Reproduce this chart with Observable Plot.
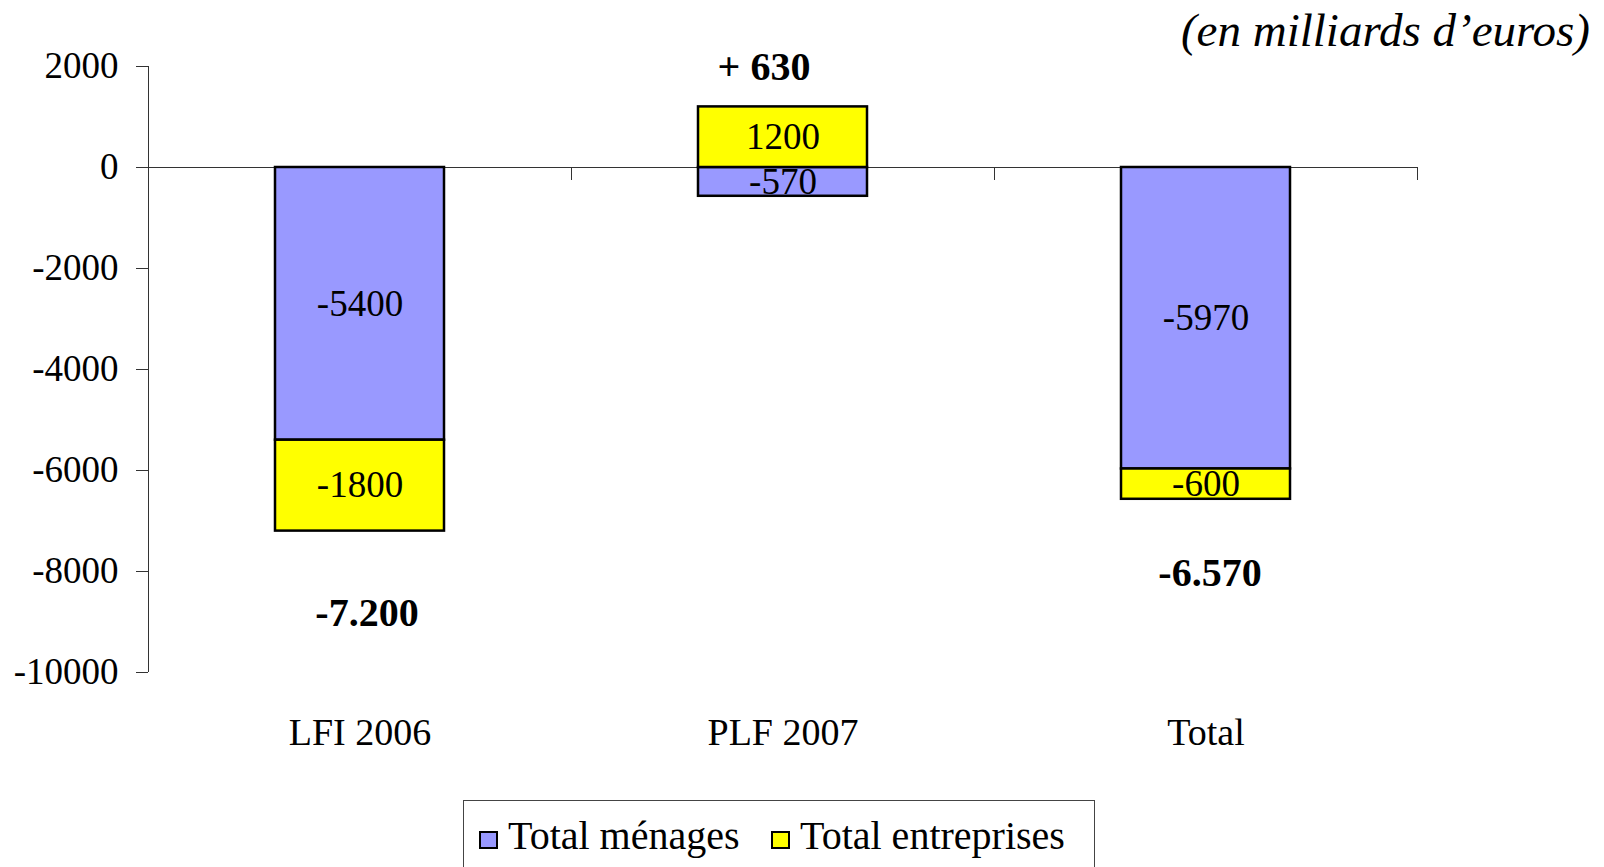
<!DOCTYPE html>
<html>
<head>
<meta charset="utf-8">
<script src="https://cdn.jsdelivr.net/npm/d3@7"></script>
<script src="https://cdn.jsdelivr.net/npm/@observablehq/plot@0.6"></script>
<style>
  html, body { margin: 0; padding: 0; background: #fff; }
  body { position: relative; width: 1604px; height: 867px; overflow: hidden;
         font-family: "Liberation Serif", "Times New Roman", serif; color: #000; }
  #chart { position: absolute; left: 0; top: 0; z-index: 0; }
  #unit { position: absolute; right: 14px; top: 7px; font-size: 47px; line-height: 47px;
          font-style: italic; white-space: nowrap; z-index: 2; }
  #legend { position: absolute; left: 463px; top: 800px; width: 632px; height: 80px;
            border: 1px solid #444; box-sizing: border-box; z-index: 2; background: #fff; }
  .item { position: absolute; top: 15px; display: flex; align-items: flex-start;
          font-size: 40px; line-height: 40px; white-space: nowrap; }
  .swatch { display: block; flex: 0 0 auto; width: 19px; height: 18px; border: 2.5px solid #000;
            box-sizing: border-box; margin-top: 15px; margin-right: 10px; }
</style>
</head>
<body>
<div id="chart"></div>
<div id="unit"></div>
<div id="legend"></div>
<script>
// Budget measures by year, split between households and companies
const categories = ["LFI 2006", "PLF 2007", "Total"];
const series = ["Total ménages", "Total entreprises"];
const menages = [-5400, -570, -5970];
const entreprises = [-1800, 1200, -600];
const yTicks = [2000, 0, -2000, -4000, -6000, -8000, -10000];
const seriesColors = ["#9999FF", "#FFFF00"];
const unitNote = "(en milliards d’euros)";

// long table for the stacked bars
const rows = categories.flatMap((c, i) => [
  {category: c, serie: series[0], value: menages[i]},
  {category: c, serie: series[1], value: entreprises[i]}
]);
const totals = categories.map((c, i) => ({category: c, value: menages[i] + entreprises[i]}));

// French number style: dot as thousands separator, explicit "+ " on gains
const fr = d3.formatLocale({decimal: ",", thousands: ".", grouping: [3], currency: ["", " €"], minus: "-"});
const fmtInt = fr.format(",d");
const fmtTotal = v => v < 0 ? fmtInt(v) : "+ " + fmtInt(v);

// layout
const W = 1604, H = 790;
const mL = 148, mR = 187, mT = 66, mB = 118;
const step = (W - mL - mR) / categories.length;
const barInset = 127;
const totalOffsets = [{dx: 7, dy: 82}, {dx: -19, dy: -68}, {dx: 4, dy: 74}];
const axisColor = "#333";

const chart = Plot.plot({
  width: W,
  height: H,
  marginLeft: mL,
  marginRight: mR,
  marginTop: mT,
  marginBottom: mB,
  style: {
    fontFamily: "'Liberation Serif', 'Times New Roman', serif",
    fontSize: "37px",
    color: "#000",
    background: "transparent",
    overflow: "visible"
  },
  x: {domain: categories, padding: 0, label: null},
  y: {domain: [-10000, 2000], label: null},
  color: {domain: series, range: seriesColors},
  marks: [
    // vertical axis line
    Plot.ruleX([categories[0]], {x: d => d, y1: yTicks[0], y2: yTicks[yTicks.length - 1], dx: -step / 2, stroke: axisColor}),
    // horizontal axis at zero
    Plot.ruleY([0], {stroke: axisColor}),
    // category separators below the zero line
    Plot.ruleX(categories, {x: d => d, y1: 0, y2: 0, insetBottom: -13, dx: -step / 2, stroke: axisColor}),
    Plot.ruleX([categories[categories.length - 1]], {x: d => d, y1: 0, y2: 0, insetBottom: -13, dx: step / 2, stroke: axisColor}),
    Plot.axisY({ticks: yTicks, tickSize: 12, tickPadding: 18, tickFormat: d => String(d), stroke: axisColor, label: null}),
    Plot.axisX({tickSize: 0, tickPadding: 46, fontSize: 38, label: null}),
    Plot.barY(rows, {
      x: "category", y: "value", fill: "serie", z: "serie",
      stroke: "#000", strokeWidth: 2.5,
      insetLeft: barInset, insetRight: barInset
    }),
    Plot.text(rows, Plot.stackY({
      x: "category", y: "value", z: "serie",
      text: d => String(d.value), fontSize: 37
    })),
    ...totals.map((t, i) => Plot.text([t], {
      x: "category", y: "value", text: d => fmtTotal(d.value),
      fontWeight: "bold", fontSize: 40,
      dx: totalOffsets[i].dx, dy: totalOffsets[i].dy
    }))
  ]
});
document.getElementById("chart").append(chart);

document.getElementById("unit").textContent = unitNote;

// legend
const legend = document.getElementById("legend");
const itemLefts = [15, 307];
series.forEach((s, i) => {
  const item = document.createElement("div");
  item.className = "item";
  item.style.left = itemLefts[i] + "px";
  const sw = document.createElement("span");
  sw.className = "swatch";
  sw.style.background = seriesColors[i];
  const label = document.createElement("span");
  label.textContent = s;
  item.append(sw, label);
  legend.append(item);
});
</script>
</body>
</html>
